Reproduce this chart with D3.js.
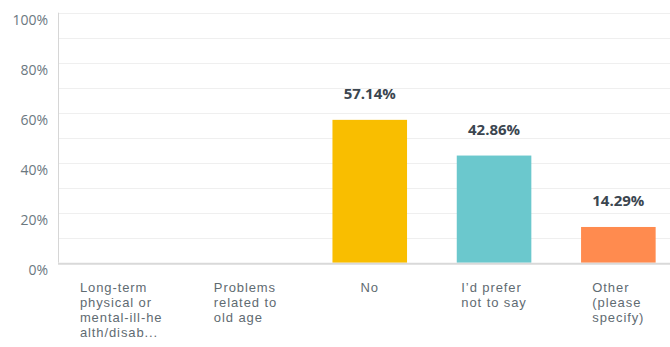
<!DOCTYPE html>
<html><head><meta charset="utf-8">
<script src="https://cdn.jsdelivr.net/npm/d3@7"></script>
<style>body{margin:0;background:#fff;}svg{display:block;}</style>
</head><body>
<svg id="c" width="670" height="347"></svg>
<script>
const categories = [
  ["Long-term", "physical or", "mental-ill-he", "alth/disab..."],
  ["Problems", "related to", "old age"],
  ["No"],
  ["I\u2019d prefer", "not to say"],
  ["Other", "(please", "specify)"]
];
const values = [0, 0, 57.14, 42.86, 14.29];
const colors = ["#F9BE00", "#F9BE00", "#F9BE00", "#6BC8CD", "#FF8B4F"];
const yTicks = [0, 20, 40, 60, 80, 100];
const gridTicks = [10, 20, 30, 40, 50, 60, 70, 80, 90, 100];

const svg = d3.select("#c");
const font = "Open Sans, Arial, sans-serif";
const catFont = "Liberation Sans, Arial, sans-serif";
const ids = categories.map((c, i) => i);
const x = d3.scaleBand().domain(ids).range([59, 680.5]).paddingInner(0.4).paddingOuter(0.2);
const y = d3.scaleLinear().domain([0, 100]).range([262.7, 12.7]);

// gridlines
svg.append("g").selectAll("line").data(gridTicks).join("line")
  .attr("x1", 59).attr("x2", 670)
  .attr("y1", d => Math.round(y(d)) + 0.5).attr("y2", d => Math.round(y(d)) + 0.5)
  .attr("stroke", "#efefef").attr("stroke-width", 1.2);

// y axis line
svg.append("line").attr("x1", 58.5).attr("x2", 58.5).attr("y1", y(100)).attr("y2", y(0))
  .attr("stroke", "#d6d6d6").attr("stroke-width", 1);

// y tick labels
svg.append("g").selectAll("text").data(yTicks).join("text")
  .attr("x", 48).attr("y", d => y(d) + 12.5)
  .attr("text-anchor", "end").attr("font-family", font).attr("font-size", 14)
  .attr("fill", "#6b787f").text(d => d + "%");

// bars
svg.append("g").selectAll("rect").data(ids.filter(i => values[i] > 0)).join("rect")
  .attr("x", i => x(i)).attr("width", x.bandwidth())
  .attr("y", i => y(values[i])).attr("height", i => y(0) - y(values[i]))
  .attr("fill", i => colors[i]);

// baseline
svg.append("line").attr("x1", 58).attr("x2", 670).attr("y1", y(0) + 1).attr("y2", y(0) + 1)
  .attr("stroke", "#d9d9d9").attr("stroke-width", 2);

// value labels
svg.append("g").selectAll("text").data(ids.filter(i => values[i] > 0)).join("text")
  .attr("x", i => x(i) + x.bandwidth() / 2).attr("y", i => y(values[i]) - 21)
  .attr("text-anchor", "middle").attr("font-family", font).attr("font-size", 15)
  .attr("font-weight", "bold").attr("fill", "#3b4650")
  .text(i => values[i].toFixed(2) + "%");

// category labels
ids.forEach(i => {
  const t = svg.append("text").attr("font-family", catFont).attr("font-size", 13)
    .attr("letter-spacing", 0.9).attr("fill", "#5f6b72");
  const spans = categories[i].map((l, k) => t.append("tspan")
    .attr("y", 292 + k * 15).text(l));
  const maxW = d3.max(spans, s => s.node().getComputedTextLength());
  const cx = x(i) + x.bandwidth() / 2;
  spans.forEach(s => s.attr("x", cx - maxW / 2));
});
</script>
</body></html>
